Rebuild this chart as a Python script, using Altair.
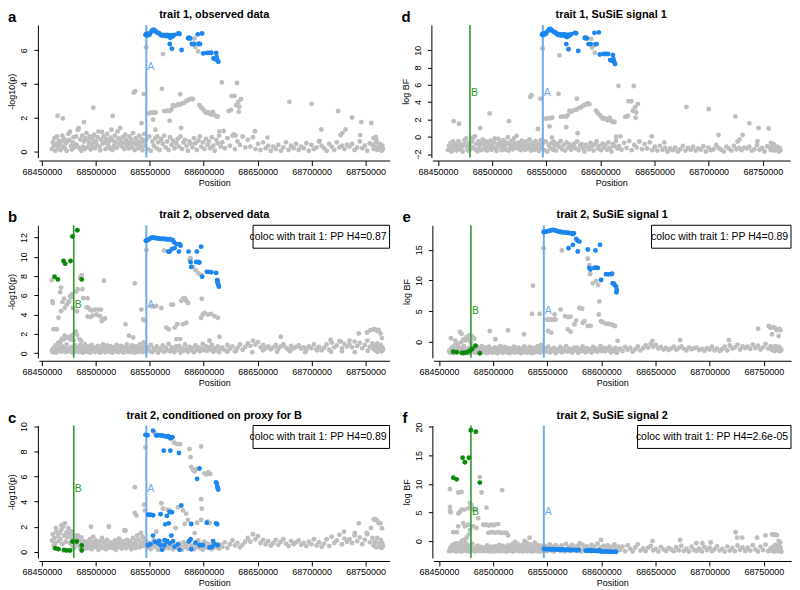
import altair as alt
import pandas as pd

FONT = "Liberation Sans"
GRAY = "#BEBEBE"
BLUE = "#1C86EE"
GREEN = "#0A8A0A"
LINE_A = "#6CACEB"
LINE_B = "#2E9B2E"

X_TICKS = [68450000, 68500000, 68550000, 68600000, 68650000, 68700000, 68750000]
A_KB = 68546.8
B_KB = 68479.5
LABEL_Y = 5

# shared SNP positions (kb) of the low "background" band
BAND_KB = [
    68459.3, 68460.1, 68460.9, 68461.6, 68462.5, 68463.2, 68464.0, 68464.9, 68465.7, 68466.4,
    68467.2, 68468.1, 68468.8, 68469.7, 68470.5, 68471.2, 68472.1, 68472.9, 68473.6, 68474.5,
    68475.3, 68476.0, 68476.9, 68477.7, 68478.4, 68479.3, 68480.1, 68480.8, 68481.7, 68482.5,
    68483.2, 68484.1, 68484.9, 68485.6, 68486.5, 68487.3, 68488.0, 68488.9, 68489.7, 68490.4,
    68491.3, 68492.1, 68492.8, 68493.7, 68494.5, 68495.2, 68496.1, 68496.9, 68497.6, 68498.5,
    68499.3, 68500.0, 68500.9, 68501.7, 68502.4, 68503.3, 68504.1, 68504.8, 68505.7, 68506.5,
    68507.2, 68508.1, 68508.9, 68509.6, 68510.5, 68511.3, 68512.0, 68512.9, 68513.7, 68514.4,
    68515.3, 68516.1, 68516.8, 68517.7, 68518.5, 68519.2, 68520.1, 68520.9, 68521.6, 68522.5,
    68523.3, 68524.0, 68524.9, 68525.7, 68526.4, 68527.3, 68528.1, 68528.8, 68529.7, 68530.5,
    68531.2, 68532.1, 68532.9, 68533.6, 68534.5, 68535.3, 68536.0, 68536.9, 68537.7, 68538.4,
    68539.3, 68540.1, 68540.8, 68541.7, 68542.5, 68543.2, 68544.1, 68544.9, 68545.6, 68546.5,
    68548.2, 68549.5, 68550.9, 68552.3, 68553.6, 68555.0, 68556.4, 68557.7, 68559.1, 68560.6,
    68562.0, 68563.3, 68564.7, 68566.1, 68567.4, 68568.8, 68570.2, 68571.5, 68572.9, 68574.4,
    68575.8, 68577.1, 68578.5, 68579.9, 68581.2, 68582.6, 68584.0, 68585.3, 68586.7, 68588.2,
    68589.6, 68590.9, 68592.3, 68593.7, 68595.0, 68596.4, 68597.8, 68599.1, 68600.5, 68602.0,
    68603.4, 68604.7, 68606.1, 68607.5, 68608.8, 68610.2, 68611.6, 68612.9, 68614.3, 68615.8,
    68617.2, 68619.5, 68621.9, 68624.2, 68626.6, 68628.9, 68631.3, 68633.6, 68636.0, 68638.5,
    68640.9, 68643.2, 68645.6, 68647.9, 68650.3, 68652.6, 68655.0, 68657.4, 68659.7, 68662.1,
    68664.4, 68666.8, 68669.1, 68671.5, 68673.8, 68676.2, 68678.6, 68680.9, 68683.3, 68685.6,
    68688.0, 68690.3, 68692.7, 68695.1, 68697.4, 68699.8, 68702.1, 68704.5, 68706.8, 68709.2,
    68711.6, 68713.9, 68716.3, 68718.6, 68721.0, 68723.3, 68725.7, 68728.1, 68730.4, 68732.8,
    68735.1, 68737.5, 68739.8, 68742.2, 68744.6, 68746.9, 68749.3, 68751.6, 68754.0, 68756.3,
    68757.5, 68758.7, 68759.8, 68760.9, 68762.0, 68763.1, 68764.0, 68764.8, 68765.5, 68766.2,
]

# ---------------- panel a: trait 1, observed data (-log10 p)
A_BAND = [
    0.15, 0.55, 0.35, 0.8, 0.05, 0.45, 0.9, 0.25, 0.65, 0.4,
    0.1, 0.6, 0.95, 0.3, 0.75, 0.2, 0.5, 0.05, 0.62, 1.05,
    0.7, 1.18, 0.33, 0.12, 0.55, 0.85, 0.25, 0.45, 0.9, 0.38,
    1.28, 1.39, 0.2, 0.72, 0.05, 0.95, 0.3, 0.6, 0.15, 0.8,
    1.1, 0.25, 0.68, 0.5, 0.9, 0.12, 0.35, 0.78, 0.55, 1.0,
    0.2, 0.62, 0.4, 0.85, 1.2, 0.3, 0.08, 0.7, 1.16, 0.48,
    0.9, 0.55, 0.15, 0.75, 1.05, 0.38, 0.6, 0.2, 0.82, 1.3,
    0.1, 0.65, 0.35, 0.95, 0.55, 0.22, 1.2, 0.78, 0.4, 1.4,
    0.6, 0.3, 0.85, 0.5, 0.15, 1.0, 0.7, 0.35, 0.55, 0.18,
    0.9, 0.45, 0.7, 0.25, 1.1, 0.52, 0.1, 0.8, 0.4, 0.62,
    0.2, 0.95, 0.5, 0.3, 0.75, 0.08, 0.6, 1.05, 0.35, 0.7,
    0.15, 0.9, 0.05, 0.6, 0.35, 0.8, 0.2, 0.55, 0.1, 0.7,
    0.45, 0.95, 0.25, 0.6, 0.1, 0.85, 0.4, 0.65, 0.2, 0.5,
    0.75, 0.3, 0.9, 0.15, 0.55, 0.7, 0.35, 0.05, 0.6, 0.45,
    0.25, 0.8, 0.5, 0.1, 0.65, 0.9, 0.3, 0.55, 0.15, 0.75,
    0.4, 0.6, 0.2, 0.85, 0.35, 0.05, 0.7, 0.5, 0.95, 0.3,
    0.55, 0.2, 0.8, 0.35, 0.95, 0.15, 0.6, 0.4, 0.9, 0.25,
    0.7, 0.3, 0.85, 0.15, 0.45, 0.1, 0.55, 0.2, 0.35, 0.05,
    0.3, 0.15, 0.4, 0.05, 0.25, 0.55, 0.1, 0.35, 0.2, 0.45,
    0.1, 0.3, 0.2, 0.5, 0.05, 0.4, 0.15, 0.25, 0.6, 0.35,
    0.2, 0.05, 0.45, 0.3, 0.1, 0.55, 0.25, 0.35, 0.15, 0.4,
    0.3, 0.45, 0.1, 0.25, 0.6, 0.2, 0.35, 0.05, 0.5, 0.4,
    0.15, 0.3, 0.55, 0.1, 0.25, 0.45, 0.2, 0.05, 0.35, 0.15,
]
A_GRAY = [
    (68546.6, 6.18), (68535.2, 3.5), (68536.3, 3.58), (68544.5, 3.41), (68542.3, 1.68),
    (68464.5, 2.12), (68469.4, 1.97), (68489.0, 1.75), (68497.7, 2.6), (68515.5, 2.12),
    (68549.5, 2.27), (68551.0, 2.3), (68552.5, 2.3), (68554.0, 2.3), (68555.5, 2.32),
    (68561.3, 3.72), (68562.2, 5.78), (68563.5, 2.4), (68566.0, 2.42), (68568.4, 2.4),
    (68570.0, 2.5), (68571.5, 2.75), (68573.5, 2.7), (68576.0, 2.8), (68577.6, 2.78),
    (68578.2, 3.4), (68580.0, 2.85), (68582.0, 2.9), (68584.0, 3.0), (68585.3, 3.05),
    (68587.0, 3.1), (68588.5, 3.14), (68589.8, 3.1), (68591.5, 6.7), (68592.3, 6.2),
    (68594.5, 6.4), (68594.8, 5.93), (68596.0, 2.75), (68597.7, 2.6), (68599.5, 2.5),
    (68600.7, 2.4), (68602.0, 2.3), (68603.8, 2.33), (68605.5, 2.25), (68606.8, 2.2),
    (68608.5, 2.35), (68610.0, 2.18), (68611.5, 2.1), (68613.0, 2.08), (68616.7, 4.1),
    (68630.8, 4.07), (68625.9, 3.3), (68628.4, 3.3), (68630.0, 2.75), (68632.0, 2.95),
    (68634.5, 3.1), (68633.0, 2.66), (68632.5, 2.37), (68625.3, 2.47), (68623.0, 2.4),
    (68614.5, 1.2), (68618.5, 1.22), (68553.0, 1.9), (68555.2, 1.3), (68568.4, 1.83),
    (68579.0, 1.4), (68557.0, 0.9), (68560.5, 0.75), (68679.4, 2.95), (68700.0, 2.83),
    (68724.6, 2.41), (68737.5, 2.02), (68746.1, 1.75), (68755.3, 1.7), (68709.0, 1.31),
    (68731.4, 1.31), (68728.5, 1.1), (68726.8, 0.98), (68745.0, 0.98), (68647.4, 1.21),
    (68659.0, 0.83), (68757.5, 0.8), (68760.0, 0.7), (68627.7, 1.02), (68629.5, 0.95),
    (68707.4, 0.64), (68759.4, 0.87),
]
A_BLUE = [
    (68546.0, 6.92), (68546.8, 6.98), (68547.5, 6.88), (68548.3, 6.95), (68549.0, 7.0),
    (68549.8, 6.93), (68551.5, 7.1), (68552.5, 7.2), (68553.5, 7.22), (68554.5, 7.18),
    (68555.5, 7.12), (68557.0, 7.05), (68558.5, 7.02), (68559.5, 6.95), (68560.5, 6.9),
    (68561.5, 6.88), (68562.5, 6.92), (68563.5, 6.86), (68564.5, 6.9), (68565.5, 6.85),
    (68566.5, 6.92), (68567.5, 6.88), (68568.3, 6.8), (68569.0, 6.75), (68570.0, 6.9),
    (68571.0, 6.82), (68572.0, 6.88), (68573.0, 6.92), (68568.5, 6.38), (68570.5, 6.1),
    (68576.5, 7.0), (68577.5, 6.97), (68579.5, 6.02), (68585.5, 6.72), (68586.5, 6.75),
    (68587.5, 6.7), (68589.0, 6.38), (68591.0, 6.38), (68594.5, 6.95), (68595.5, 6.38),
    (68596.5, 6.38), (68598.5, 7.0), (68599.5, 5.82), (68603.0, 5.85), (68605.0, 5.85),
    (68607.0, 5.86), (68609.0, 5.52), (68610.5, 5.48), (68611.5, 5.85), (68612.0, 5.6),
    (68612.8, 5.4), (68613.5, 5.32),
]

# ---------------- panel d: trait 1, SuSiE signal 1 (log BF)
D_BAND = [
    -1.55, -1.05, -1.3, -0.7, -1.7, -1.15, -0.55, -1.4, -0.9, -1.25,
    -1.6, -0.95, -0.5, -1.35, -0.8, -1.5, -1.1, -1.7, -0.95, -0.4,
    -0.85, -0.2, -1.3, -1.6, -1.05, -0.65, -1.45, -1.15, -0.55, -1.25,
    -0.05, 0.05, -1.5, -0.85, -1.7, -0.5, -1.35, -0.95, -1.55, -0.7,
    -0.3, -1.45, -0.9, -1.1, -0.55, -1.6, -1.3, -0.75, -1.05, -0.45,
    -1.5, -0.95, -1.25, -0.65, -0.2, -1.35, -1.65, -0.85, -0.25, -1.1,
    -0.55, -1.05, -1.55, -0.8, -0.4, -1.25, -0.95, -1.5, -0.7, -0.05,
    -1.6, -0.9, -1.3, -0.5, -1.05, -1.45, -0.2, -0.75, -1.25, 0.1,
    -0.95, -1.35, -0.65, -1.1, -1.55, -0.45, -0.85, -1.3, -1.05, -1.5,
    -0.55, -1.15, -0.85, -1.4, -0.3, -1.05, -1.6, -0.7, -1.25, -0.95,
    -1.5, -0.5, -1.1, -1.35, -0.8, -1.65, -0.95, -0.4, -1.3, -0.85,
    -1.55, -0.55, -1.7, -0.95, -1.3, -0.7, -1.5, -1.05, -1.6, -0.85,
    -1.15, -0.5, -1.45, -0.95, -1.6, -0.65, -1.25, -0.9, -1.5, -1.1,
    -0.8, -1.35, -0.55, -1.55, -1.05, -0.85, -1.3, -1.7, -0.95, -1.15,
    -1.45, -0.7, -1.1, -1.6, -0.9, -0.55, -1.35, -1.05, -1.55, -0.8,
    -1.25, -0.95, -1.5, -0.65, -1.3, -1.7, -0.85, -1.1, -0.5, -1.35,
    -1.05, -1.5, -0.7, -1.3, -0.5, -1.55, -0.95, -1.25, -0.55, -1.45,
    -0.85, -1.35, -0.65, -1.55, -1.15, -1.6, -1.05, -1.5, -1.3, -1.7,
    -1.35, -1.55, -1.25, -1.7, -1.45, -1.05, -1.6, -1.3, -1.5, -1.15,
    -1.6, -1.35, -1.5, -1.1, -1.7, -1.25, -1.55, -1.45, -0.95, -1.3,
    -1.5, -1.7, -1.15, -1.35, -1.6, -1.05, -1.45, -1.3, -1.55, -1.25,
    -1.35, -1.15, -1.6, -1.45, -0.95, -1.5, -1.3, -1.7, -1.1, -1.25,
    -1.55, -1.35, -1.05, -1.6, -1.45, -1.15, -1.5, -1.7, -1.3, -1.55,
]
D_GRAY = [
    (68546.6, 10.2), (68535.2, 4.6), (68536.3, 4.8), (68544.5, 4.4), (68542.3, 0.9),
    (68464.5, 1.8), (68469.4, 1.5), (68489.0, 1.0), (68497.7, 2.7), (68515.5, 1.8),
    (68481.6, -0.12), (68549.5, 2.1), (68551.0, 2.15), (68552.5, 2.15), (68554.0, 2.15),
    (68555.5, 2.2), (68561.3, 4.95), (68562.2, 9.4), (68563.5, 2.3), (68566.0, 2.35),
    (68568.4, 2.3), (68570.0, 2.5), (68571.5, 3.0), (68573.5, 2.9), (68576.0, 3.1),
    (68577.6, 3.1), (68578.2, 4.4), (68580.0, 3.3), (68582.0, 3.4), (68584.0, 3.6),
    (68585.3, 3.65), (68587.0, 3.75), (68588.5, 3.85), (68589.8, 3.75), (68591.5, 11.3),
    (68592.3, 10.3), (68594.5, 10.6), (68594.8, 9.7), (68596.0, 3.0), (68597.7, 2.7),
    (68599.5, 2.5), (68600.7, 2.3), (68602.0, 2.1), (68603.8, 2.15), (68605.5, 2.0),
    (68606.8, 1.9), (68608.5, 2.2), (68610.0, 1.85), (68611.5, 1.7), (68613.0, 1.7),
    (68616.7, 5.86), (68630.8, 5.86), (68625.9, 4.1), (68628.4, 4.1), (68630.0, 3.0),
    (68632.0, 3.4), (68634.5, 3.75), (68633.0, 2.8), (68632.5, 2.2), (68625.3, 2.4),
    (68623.0, 2.3), (68614.5, 0.0), (68618.5, 0.05), (68553.0, 1.2), (68555.2, -0.1),
    (68568.4, 1.1), (68579.0, 0.4), (68557.0, -0.6), (68560.5, -0.8), (68679.4, 3.45),
    (68700.0, 3.2), (68724.6, 2.35), (68737.5, 1.55), (68746.1, 1.0), (68755.3, 0.95),
    (68709.0, 0.2), (68731.4, 0.2), (68728.5, -0.3), (68726.8, -0.55), (68745.0, -0.5),
    (68647.4, 0.05), (68659.0, -0.65), (68757.5, -0.7), (68760.0, -0.85),
]
D_BLUE = [
    (68546.0, 11.8), (68546.8, 11.9), (68547.5, 11.75), (68548.3, 11.85), (68549.0, 12.0),
    (68549.8, 11.9), (68551.5, 12.2), (68552.5, 12.4), (68553.5, 12.45), (68554.5, 12.35),
    (68555.5, 12.25), (68557.0, 12.1), (68558.5, 12.05), (68559.5, 11.9), (68560.5, 11.8),
    (68561.5, 11.75), (68562.5, 11.85), (68563.5, 11.7), (68564.5, 11.8), (68565.5, 11.7),
    (68566.5, 11.85), (68567.5, 11.75), (68568.3, 11.6), (68569.0, 11.5), (68570.0, 11.8),
    (68571.0, 11.65), (68572.0, 11.75), (68573.0, 11.85), (68568.5, 10.7), (68570.5, 10.1),
    (68576.5, 12.0), (68577.5, 11.95), (68579.5, 9.9), (68585.5, 11.4), (68586.5, 11.45),
    (68587.5, 11.35), (68589.0, 10.7), (68591.0, 10.7), (68594.5, 12.0), (68595.5, 10.7),
    (68596.5, 10.7), (68598.5, 12.05), (68599.5, 9.5), (68603.0, 9.55), (68605.0, 9.55),
    (68607.0, 9.55), (68609.0, 8.85), (68610.5, 8.8), (68611.5, 9.45), (68612.0, 8.95),
    (68612.8, 8.6), (68613.5, 8.4),
]

# ---------------- panel b: trait 2, observed data (-log10 p)
B_BAND = [
    0.3, 0.1, 0.55, 0.2, 0.8, 0.05, 0.4, 1.05, 0.25, 0.6,
    1.2, 0.15, 0.7, 0.35, 1.45, 0.5, 0.1, 0.9, 0.3, 1.6,
    0.45, 0.2, 1.75, 0.65, 0.05, 1.35, 0.3, 0.8, 0.15, 1.9,
    0.55, 0.1, 0.35, 0.85, 0.2, 0.6, 0.05, 0.4, 0.95, 0.25,
    0.5, 0.15, 0.7, 0.3, 0.05, 0.45, 0.85, 0.2, 0.6, 0.35,
    0.1, 0.55, 0.3, 0.75, 0.2, 0.45, 0.05, 0.65, 0.35, 0.9,
    0.25, 0.6, 0.1, 0.45, 0.8, 0.3, 0.55, 0.15, 0.7, 0.4,
    0.05, 0.5, 0.3, 0.65, 0.2, 0.85, 0.4, 0.1, 0.6, 0.35,
    0.75, 0.2, 0.5, 0.05, 0.4, 0.65, 0.3, 0.9, 0.15, 0.55,
    0.35, 0.1, 0.6, 0.8, 0.25, 0.45, 0.05, 0.7, 0.3, 0.55,
    0.15, 0.5, 0.9, 0.3, 0.65, 0.1, 1.1, 0.4, 0.75, 0.2,
    0.6, 0.25, 0.85, 0.1, 0.5, 0.35, 0.7, 0.05, 0.45, 0.3,
    0.8, 0.15, 0.55, 0.3, 0.95, 0.2, 0.6, 0.4, 0.1, 0.7,
    0.35, 0.75, 0.05, 0.5, 0.25, 0.9, 0.4, 0.15, 0.65, 0.3,
    0.55, 0.1, 0.8, 0.35, 0.6, 0.2, 0.45, 0.95, 0.3, 0.7,
    0.25, 0.6, 0.4, 0.85, 0.15, 0.5, 0.3, 0.7, 0.1, 0.45,
    0.6, 0.3, 0.85, 0.45, 0.7, 0.2, 0.55, 0.9, 0.35, 0.65,
    1.0, 0.75, 1.3, 0.9, 1.15, 0.6, 0.85, 0.5, 0.7, 0.4,
    0.6, 0.85, 0.45, 0.7, 0.9, 0.55, 0.35, 0.75, 0.5, 0.65,
    0.8, 0.45, 0.6, 0.35, 0.7, 0.5, 0.9, 0.4, 0.65, 0.3,
    0.55, 0.9, 0.35, 1.1, 0.6, 0.8, 1.25, 0.5, 0.95, 0.7,
    0.9, 0.6, 1.2, 0.75, 1.05, 0.5, 0.85, 1.3, 0.65, 1.0,
    0.4, 0.7, 0.25, 1.0, 0.55, 0.3, 0.85, 0.2, 0.6, 0.35,
]
B_GRAY = [
    (68459.2, 7.58), (68459.8, 5.37), (68460.2, 5.2), (68460.8, 2.48), (68463.8, 2.48),
    (68466.9, 6.33), (68467.8, 6.8), (68469.0, 5.3), (68470.6, 5.65), (68471.2, 4.7),
    (68473.0, 5.03), (68474.6, 5.3), (68476.1, 5.88), (68477.7, 6.12), (68478.6, 4.7),
    (68481.7, 6.4), (68483.2, 6.63), (68485.4, 7.82), (68486.9, 8.1), (68482.5, 4.35),
    (68488.4, 5.71), (68491.5, 4.76), (68493.0, 4.69), (68494.6, 4.52), (68496.1, 4.42),
    (68499.2, 4.52), (68502.3, 4.52), (68504.7, 4.52), (68500.7, 4.01), (68503.8, 3.84),
    (68505.4, 3.33), (68506.8, 3.5), (68508.4, 3.6), (68495.0, 3.74), (68497.2, 3.9),
    (68492.4, 3.81), (68507.5, 7.52), (68479.2, 1.97), (68481.4, 2.24), (68484.7, 1.46),
    (68486.2, 1.3), (68466.9, 1.12), (68468.5, 1.5), (68471.0, 1.8), (68473.5, 1.6),
    (68476.5, 1.4), (68527.5, 2.99), (68530.6, 1.8), (68534.6, 1.63), (68536.1, 7.24),
    (68542.2, 4.52), (68543.8, 3.5), (68544.6, 3.4), (68546.9, 10.7), (68465.4, 3.67),
    (68467.8, 4.35), (68475.2, 5.37), (68477.1, 5.8), (68487.5, 6.63), (68492.2, 5.68),
    (68551.5, 4.86), (68553.0, 4.86), (68554.6, 4.86), (68556.0, 4.9), (68560.7, 4.69),
    (68563.2, 10.65), (68565.3, 2.65), (68567.5, 2.48), (68570.0, 5.03), (68571.5, 5.03),
    (68573.0, 2.65), (68574.6, 1.46), (68578.2, 1.46), (68579.2, 5.44), (68580.7, 5.65),
    (68582.3, 5.7), (68583.8, 5.44), (68585.3, 5.2), (68575.5, 3.0), (68580.7, 3.0),
    (68583.8, 3.16), (68586.9, 9.73), (68587.8, 9.85), (68589.9, 8.95), (68592.4, 8.6),
    (68595.1, 8.27), (68597.6, 8.1), (68598.2, 5.65), (68597.6, 3.67), (68599.1, 4.01),
    (68600.7, 4.18), (68603.8, 4.0), (68606.8, 4.08), (68610.0, 3.84), (68613.0, 3.67),
    (68605.3, 1.29), (68614.5, 1.7), (68743.7, 2.04), (68751.3, 2.14), (68754.4, 2.38),
    (68757.5, 2.48), (68759.0, 2.45), (68760.6, 2.31), (68762.2, 2.4), (68763.7, 2.04),
    (68765.2, 1.56), (68671.4, 1.7), (68717.5, 1.36), (68727.0, 1.2), (68735.0, 1.3),
    (68622.0, 0.15), (68630.0, 0.25), (68645.0, 0.1), (68655.0, 0.3), (68668.0, 0.15),
    (68680.0, 0.2), (68694.0, 0.1), (68705.0, 0.3), (68718.0, 0.15), (68728.0, 0.2),
    (68740.0, 0.1), (68752.0, 0.25), (68761.0, 0.15),
]
B_BLUE = [
    (68546.3, 11.67), (68547.5, 11.7), (68549.0, 11.8), (68550.5, 11.9), (68552.1, 12.0),
    (68553.5, 11.98), (68555.0, 11.95), (68556.5, 11.92), (68558.0, 11.9), (68559.5, 11.88),
    (68561.0, 11.85), (68562.5, 11.87), (68564.0, 11.85), (68565.5, 11.82), (68567.0, 11.8),
    (68568.5, 11.82), (68570.0, 11.78), (68571.5, 11.7), (68572.5, 11.5), (68567.0, 10.54),
    (68568.4, 10.54), (68570.5, 10.8), (68573.0, 10.9), (68574.8, 11.3), (68577.6, 11.3),
    (68578.5, 11.15), (68577.0, 10.54), (68585.9, 10.54), (68593.6, 10.54), (68597.6, 11.05),
    (68587.8, 9.46), (68588.4, 8.95), (68593.0, 9.46), (68595.0, 9.46), (68596.0, 9.4),
    (68598.5, 7.93), (68602.8, 8.44), (68605.0, 8.44), (68607.0, 8.4), (68611.4, 8.33),
    (68612.4, 7.58), (68613.0, 7.5), (68613.6, 7.07), (68614.0, 6.9), (68612.8, 7.3),
]
B_GREEN = [
    (68461.7, 7.93), (68464.8, 7.65), (68470.0, 9.56), (68471.5, 9.29), (68476.5, 9.56),
    (68478.3, 12.1), (68482.9, 12.76), (68486.9, 7.65),
]

# ---------------- panel e: trait 2, SuSiE signal 1 (log BF)
E_BAND = [
    -1.5, -1.75, -1.2, -1.65, -0.85, -1.85, -1.4, -0.5, -1.55, -1.1,
    -0.35, -1.7, -0.95, -1.45, -0.05, -1.25, -1.8, -0.7, -1.5, 0.2,
    -1.3, -1.65, 0.35, -1.0, -1.85, -0.15, -1.5, -0.85, -1.7, 0.5,
    -1.2, -1.8, -1.45, -0.8, -1.65, -1.1, -1.85, -1.35, -0.7, -1.55,
    -1.25, -1.7, -0.95, -1.5, -1.85, -1.3, -0.8, -1.65, -1.1, -1.45,
    -1.8, -1.2, -1.5, -0.9, -1.65, -1.35, -1.85, -1.05, -1.45, -0.7,
    -1.55, -1.1, -1.8, -1.35, -0.85, -1.5, -1.2, -1.7, -1.0, -1.4,
    -1.85, -1.25, -1.5, -1.05, -1.65, -0.8, -1.4, -1.75, -1.1, -1.45,
    -0.95, -1.65, -1.25, -1.85, -1.4, -1.05, -1.5, -0.75, -1.7, -1.2,
    -1.45, -1.75, -1.1, -0.85, -1.55, -1.3, -1.85, -1.0, -1.5, -1.2,
    -1.7, -1.25, -0.75, -1.5, -1.05, -1.75, -0.5, -1.35, -0.95, -1.6,
    -1.1, -1.55, -0.8, -1.75, -1.25, -1.45, -1.0, -1.85, -1.3, -1.5,
    -0.85, -1.7, -1.2, -1.5, -0.7, -1.6, -1.1, -1.35, -1.75, -1.0,
    -1.4, -0.9, -1.8, -1.25, -1.55, -0.75, -1.35, -1.7, -1.05, -1.5,
    -1.2, -1.75, -0.85, -1.45, -1.1, -1.6, -1.3, -0.7, -1.5, -1.0,
    -1.55, -1.1, -1.35, -0.8, -1.7, -1.25, -1.5, -1.0, -1.8, -1.3,
    -1.1, -1.5, -0.85, -1.3, -1.0, -1.6, -1.2, -0.75, -1.4, -1.05,
    -0.6, -0.95, -0.3, -0.8, -0.5, -1.1, -0.85, -1.25, -1.0, -1.35,
    -1.1, -0.8, -1.3, -1.0, -0.75, -1.15, -1.4, -0.9, -1.2, -1.05,
    -0.95, -1.35, -1.15, -1.45, -1.05, -1.25, -0.8, -1.4, -1.1, -1.5,
    -1.2, -0.8, -1.4, -0.6, -1.1, -0.9, -0.45, -1.25, -0.75, -1.0,
    -0.8, -1.15, -0.45, -1.0, -0.65, -1.25, -0.9, -0.35, -1.1, -0.7,
    -1.3, -0.95, -1.5, -0.7, -1.2, -1.4, -0.85, -1.55, -1.1, -1.35,
]
E_GRAY = [
    (68546.6, 15.26), (68563.5, 14.9), (68587.4, 13.55), (68588.9, 12.5), (68589.5, 11.03),
    (68592.0, 9.53), (68595.0, 9.9), (68597.0, 9.27), (68598.1, 6.59), (68536.8, 9.16),
    (68535.9, 4.55), (68542.9, 4.55), (68550.0, 3.64), (68551.5, 3.6), (68553.0, 3.6),
    (68554.5, 3.62), (68556.0, 3.6), (68557.5, 3.65), (68556.7, 4.45), (68562.3, 5.25),
    (68566.5, 4.18), (68569.6, 4.02), (68571.5, 4.1), (68569.0, 2.03), (68571.5, 1.66),
    (68575.1, 2.84), (68576.7, 3.48), (68579.7, 5.52), (68582.2, 5.41), (68584.3, 3.37),
    (68582.8, 3.1), (68587.4, 2.57), (68590.0, 2.6), (68597.5, 4.45), (68599.7, 3.37),
    (68601.2, 3.2), (68604.3, 2.95), (68606.5, 2.9), (68608.9, 2.84), (68610.5, 2.7),
    (68612.5, 2.57), (68615.0, 0.16), (68550.6, 1.77), (68553.7, 1.5), (68461.0, 0.59),
    (68469.3, 1.6), (68470.8, 1.3), (68475.5, 0.8), (68478.0, 1.1), (68496.9, 1.77),
    (68513.8, 1.87), (68528.5, 1.23), (68502.1, 0.43), (68465.0, 0.2), (68472.5, 0.4),
    (68480.5, 0.9), (68647.2, 0.16), (68672.7, 0.27), (68717.8, 0.27), (68744.7, 2.14),
    (68754.6, 2.57), (68756.1, 2.3), (68757.6, 1.23), (68759.0, 2.4), (68760.5, 2.2),
    (68762.0, 1.9), (68763.7, 0.96), (68765.3, 1.87), (68764.5, 2.1),
]
E_BLUE = [
    (68546.6, 17.9), (68548.5, 17.95), (68550.0, 18.0), (68552.1, 18.1), (68553.5, 18.2),
    (68555.2, 18.26), (68556.8, 18.2), (68558.3, 18.1), (68560.0, 18.0), (68561.3, 17.94),
    (68562.8, 17.9), (68564.4, 17.84), (68566.0, 17.84), (68567.5, 17.8), (68569.0, 17.78),
    (68570.5, 17.73), (68572.0, 17.7), (68573.6, 17.57), (68574.5, 17.7), (68576.7, 16.76),
    (68578.0, 16.5), (68579.7, 16.34), (68569.6, 15.26), (68573.6, 15.8), (68578.2, 14.73),
    (68587.4, 15.05), (68594.5, 14.9), (68598.7, 15.8), (68588.9, 12.05), (68589.8, 11.8),
    (68593.5, 12.05), (68595.0, 12.1), (68596.6, 12.05), (68599.7, 10.07), (68604.3, 11.03),
    (68606.5, 11.0), (68608.9, 11.03), (68609.8, 11.1), (68610.4, 9.53), (68611.3, 9.5),
    (68612.0, 9.3), (68613.5, 9.0), (68614.1, 8.46), (68613.8, 8.09),
]
E_GREEN = [
    (68463.2, -1.6), (68466.3, -1.71), (68471.0, -1.8), (68472.4, -1.82), (68474.0, -1.78),
    (68476.1, -1.71), (68478.5, -1.45), (68480.7, -1.18), (68483.7, -0.64), (68487.7, -1.87),
]

# ---------------- panel c: trait 2, conditioned on proxy for B (-log10 p)
C_BAND = [
    0.9, 1.4, 0.5, 1.1, 0.7, 1.6, 0.3, 1.25, 0.85, 1.5,
    1.0, 1.75, 0.6, 2.0, 1.3, 2.27, 0.8, 1.55, 1.15, 1.9,
    1.4, 0.7, 1.65, 1.1, 0.45, 1.35, 0.9, 1.2, 0.6, 1.0,
    1.3, 0.5, 0.95, 0.3, 1.15, 0.7, 0.4, 0.85, 0.6, 0.25,
    0.45, 0.8, 0.3, 0.65, 1.0, 0.5, 0.2, 0.75, 1.2, 0.4,
    0.6, 0.9, 0.35, 0.7, 0.15, 0.55, 0.85, 0.45, 1.1, 0.3,
    0.8, 0.4, 0.65, 0.2, 0.95, 0.5, 2.0, 0.35, 0.75, 0.55,
    0.3, 0.7, 0.45, 0.9, 0.15, 0.6, 0.8, 0.35, 1.05, 0.5,
    0.65, 0.25, 0.85, 0.45, 1.7, 0.6, 0.3, 0.95, 0.5, 0.75,
    0.4, 0.85, 0.2, 0.6, 1.1, 0.45, 0.7, 0.3, 0.9, 1.3,
    0.55, 0.95, 0.35, 1.5, 0.7, 1.2, 0.45, 1.0, 0.6, 0.8,
    0.35, 0.7, 0.2, 0.55, 0.9, 0.4, 0.65, 0.15, 0.5, 0.8,
    0.6, 0.25, 0.45, 0.85, 0.3, 0.5, 0.7, 0.2, 0.55, 0.4,
    0.3, 0.65, 0.5, 0.15, 0.75, 0.4, 0.6, 0.25, 0.85, 0.45,
    0.5, 0.2, 0.7, 0.4, 0.9, 0.3, 0.6, 0.15, 0.8, 0.35,
    0.65, 0.3, 0.5, 0.2, 0.75, 0.45, 0.35, 0.6, 0.25, 0.55,
    0.4, 0.75, 0.3, 0.6, 0.9, 0.5, 0.7, 0.35, 0.55, 0.8,
    1.1, 0.8, 1.4, 1.0, 1.25, 0.7, 0.95, 0.6, 0.85, 0.5,
    0.7, 0.95, 0.55, 0.8, 1.0, 0.65, 0.45, 0.85, 0.6, 0.75,
    0.9, 0.55, 0.7, 0.45, 0.8, 0.6, 1.0, 0.5, 0.75, 0.4,
    0.65, 1.0, 0.45, 1.2, 0.7, 0.9, 1.35, 0.6, 1.05, 0.8,
    1.0, 0.7, 1.3, 0.85, 1.15, 0.6, 0.95, 1.4, 0.75, 1.1,
    0.5, 0.8, 0.35, 1.1, 0.65, 0.4, 0.95, 0.3, 0.7, 0.45,
]
C_GRAY = [
    (68546.0, 8.33), (68554.6, 9.48), (68572.4, 8.71), (68575.0, 8.6), (68578.2, 8.58),
    (68586.9, 8.2), (68587.8, 7.55), (68597.6, 8.4), (68588.4, 6.78), (68590.0, 6.52),
    (68591.5, 6.4), (68593.0, 6.6), (68600.7, 6.26), (68602.8, 6.19), (68604.3, 6.34),
    (68606.0, 6.2), (68597.6, 4.2), (68598.2, 3.43), (68536.1, 5.15), (68536.1, 3.09),
    (68537.6, 2.9), (68544.7, 3.76), (68545.5, 3.3), (68560.7, 3.87), (68562.2, 3.43),
    (68566.8, 3.35), (68568.4, 3.3), (68576.1, 3.56), (68580.7, 3.3), (68583.8, 3.04),
    (68585.3, 2.53), (68582.2, 2.22), (68593.8, 2.32), (68597.6, 2.53), (68603.8, 2.4),
    (68605.3, 2.3), (68591.5, 1.49), (68556.0, 1.6), (68574.0, 1.9), (68495.5, 2.0),
    (68512.1, 2.0), (68527.5, 1.7), (68465.0, 0.2), (68470.0, 0.1), (68480.0, 0.3),
    (68463.0, 1.9), (68468.0, 2.1), (68743.7, 2.27), (68757.5, 2.58), (68759.0, 2.6),
    (68760.6, 2.5), (68762.0, 2.3), (68763.7, 2.27), (68765.2, 1.88), (68751.0, 1.5),
    (68755.0, 1.9), (68740.0, 1.5), (68730.0, 1.6),
]
C_BLUE = [
    (68546.0, 9.33), (68548.0, 9.3), (68553.0, 9.67), (68556.1, 9.28), (68558.0, 9.3),
    (68560.7, 9.28), (68562.5, 9.25), (68563.8, 9.23), (68565.5, 9.2), (68567.0, 9.22),
    (68568.4, 9.15), (68569.2, 9.05), (68570.0, 9.1), (68571.0, 9.15), (68562.9, 8.07),
    (68569.0, 8.07), (68577.0, 7.89), (68596.1, 6.65), (68593.8, 5.82), (68611.4, 5.54),
    (68612.0, 5.45), (68612.6, 5.2), (68613.0, 5.1), (68613.4, 4.97), (68548.4, 2.96),
    (68550.5, 2.95), (68553.0, 2.91), (68560.0, 2.99), (68565.9, 2.86), (68568.4, 3.17),
    (68570.5, 3.15), (68579.2, 3.69), (68564.4, 2.19), (68567.5, 2.27), (68588.4, 2.22),
    (68602.8, 2.32), (68611.4, 2.27), (68612.5, 2.2), (68553.0, 1.29), (68570.0, 1.29),
    (68563.8, 0.93), (68566.0, 0.85), (68571.5, 0.85), (68576.1, 0.59), (68548.4, 0.52),
    (68550.5, 0.6), (68554.6, 0.8), (68557.5, 0.7), (68560.0, 0.52), (68561.3, 0.15),
    (68563.5, 0.5), (68568.4, 0.67), (68573.0, 0.41), (68577.6, 0.15), (68586.2, 0.82),
    (68588.4, 0.2), (68592.4, 0.72), (68596.1, 0.52), (68599.2, 0.52), (68605.3, 0.34),
    (68607.8, 0.39), (68608.7, 0.85), (68613.0, 0.52), (68558.6, 0.87), (68565.4, 0.79),
    (68587.8, 1.0), (68610.0, 0.6),
]
C_GREEN = [
    (68462.3, 0.28), (68465.4, 0.21), (68470.6, 0.15), (68473.0, 0.1), (68476.1, 0.1),
    (68478.3, 0.82), (68482.3, 0.82), (68486.9, 0.5), (68486.9, 0.1),
]

# ---------------- panel f: trait 2, SuSiE signal 2 (log BF)
F_BAND = [
    -1.8, -1.5, -1.1, -1.75, -0.7, -1.6, -1.3, -0.5, -1.85, -1.2,
    -0.4, -1.7, -1.0, -1.85, -0.6, -1.45, -1.8, -0.9, -1.55, -0.3,
    -1.3, -1.8, -0.8, -1.55, -1.85, -1.1, -1.65, -0.55, -1.75, -1.4,
    -1.85, -1.2, -1.6, -0.85, -1.75, -1.35, -1.8, -1.05, -1.5, -1.7,
    -1.4, -1.8, -1.1, -1.65, -0.8, -1.75, -1.5, -1.25, -1.85, -1.0,
    -1.7, -1.25, -1.85, -0.95, -1.55, -1.75, -1.15, -1.6, -0.7, -1.8,
    -1.3, -1.8, -0.9, -1.6, -1.75, -1.1, -1.85, -1.45, -0.8, -1.65,
    -1.75, -1.2, -1.6, -0.6, -1.85, -1.35, -0.9, -1.7, -1.15, -0.5,
    -1.55, -1.8, -1.0, -1.65, -0.75, -1.85, -1.3, -0.4, -1.7, -1.1,
    -1.8, -0.9, -1.5, -1.75, -0.6, -1.4, -1.85, -1.05, -1.6, -0.3,
    -1.35, -1.8, -0.7, -1.6, -1.2, -1.85, -0.85, -1.5, -1.75, -1.0,
    -0.9, -1.8, -1.2, -0.6, -1.7, -1.0, -1.85, -0.75, -1.5, -1.1,
    -1.75, -0.8, -1.4, -1.85, -0.55, -1.6, -1.05, -1.8, -0.7, -1.3,
    -1.0, -1.7, -0.85, -1.5, -1.85, -0.65, -1.3, -1.75, -0.95, -1.6,
    -1.8, -0.7, -1.45, -1.05, -1.75, -0.5, -1.6, -1.2, -1.85, -0.9,
    -1.3, -1.8, -0.8, -1.6, -1.1, -1.85, -0.75, -1.5, -1.7, -1.0,
    -1.6, -1.0, -1.8, -0.75, -1.4, -1.85, -1.15, -0.6, -1.7, -1.3,
    -1.8, -1.2, -0.9, -1.65, -1.4, -1.85, -1.05, -1.5, -1.75, -1.25,
    -1.5, -1.8, -1.1, -1.65, -0.85, -1.75, -1.35, -1.85, -1.0, -1.6,
    -1.75, -1.3, -1.85, -1.05, -1.6, -1.2, -1.8, -1.45, -0.95, -1.7,
    -1.4, -1.85, -1.0, -1.7, -1.25, -1.8, -0.8, -1.55, -1.15, -1.75,
    -1.2, -1.7, -0.75, -1.5, -1.85, -1.0, -1.6, -0.65, -1.8, -1.3,
    -1.75, -1.0, -1.85, -0.7, -1.5, -1.8, -0.85, -1.65, -1.2, -1.9,
]
F_GRAY = [
    (68460.1, 9.1), (68467.8, 8.5), (68470.9, 8.6), (68487.7, 11.2), (68489.3, 8.5),
    (68508.3, 8.9), (68493.9, 5.85), (68460.1, 5.97), (68460.3, 5.3), (68460.8, 5.0),
    (68467.8, 4.83), (68469.3, 5.1), (68470.9, 5.5), (68473.5, 5.5), (68477.0, 5.7),
    (68478.5, 6.65), (68480.0, 6.25), (68483.1, 5.4), (68481.5, 5.6), (68463.2, 1.53),
    (68466.3, 1.53), (68467.8, 2.56), (68472.4, 3.13), (68473.9, 2.56), (68477.0, 2.84),
    (68481.6, 2.56), (68484.7, 2.27), (68486.2, 3.98), (68470.9, 0.0), (68473.9, 0.28),
    (68475.5, 0.6), (68477.6, 1.14), (68490.8, 2.84), (68492.5, 2.8), (68493.9, 2.84),
    (68496.0, 2.7), (68498.5, 2.84), (68500.5, 2.75), (68501.6, 2.84), (68504.6, 2.95),
    (68495.4, 1.42), (68497.5, 1.5), (68500.0, 1.53), (68502.0, 1.45), (68504.6, 1.53),
    (68506.0, 1.5), (68507.7, 1.42), (68510.0, 1.45), (68512.3, 1.42), (68513.8, 0.97),
    (68520.0, -0.17), (68529.1, 0.0), (68533.7, 0.57), (68531.0, -0.3), (68478.6, 1.93),
    (68647.2, 0.0), (68672.7, 0.17), (68687.7, -0.4), (68693.2, -0.4), (68700.9, -0.28),
    (68723.9, 1.53), (68725.4, 0.57), (68730.0, 0.57), (68743.8, 0.57), (68751.5, 0.97),
    (68757.6, 1.14), (68759.0, 1.1), (68760.5, 1.14), (68762.0, 1.0), (68763.7, 0.0),
    (68765.0, -0.3), (68599.7, 0.17), (68580.0, -0.4), (68612.0, -0.6),
]
F_BLUE = [
    (68547.0, -1.42), (68548.2, -1.45), (68549.5, -1.42), (68551.0, -1.48), (68552.5, -1.45),
    (68554.0, -1.5), (68555.5, -1.47), (68557.0, -1.5), (68558.5, -1.48), (68560.0, -1.52),
    (68561.5, -1.5), (68563.0, -1.55), (68564.5, -1.52), (68566.0, -1.55), (68567.5, -1.58),
    (68569.0, -1.55), (68570.5, -1.6), (68572.0, -1.57), (68573.5, -1.6), (68576.0, -1.62),
    (68577.5, -1.65), (68579.0, -1.6), (68585.5, -1.7), (68587.0, -1.72), (68588.5, -1.68),
    (68591.0, -1.75), (68593.0, -1.72), (68595.0, -1.78), (68596.5, -1.75), (68598.5, -1.8),
    (68600.0, -1.85), (68602.5, -1.88), (68604.5, -1.85), (68606.5, -1.9), (68608.5, -1.88),
    (68610.5, -1.92), (68612.0, -1.9), (68613.5, -1.92), (68598.0, -1.62), (68590.0, -1.6),
]
F_GREEN = [
    (68463.2, 11.08), (68466.3, 10.8), (68471.8, 14.6), (68473.9, 13.8), (68477.6, 14.6),
    (68479.4, 19.43), (68484.0, 19.15), (68487.7, 10.23),
]

PT_SIZE = 24
H = 133
W_L, W_R = 352, 359
XDOM_L = [68447200, 68772200]
XDOM_R = [68444800, 68775100]


def df(pairs):
    return pd.DataFrame({"pos": [k * 1000 for k, _ in pairs], "y": [v for _, v in pairs]})


def panel(letter, title, ytitle, ydom, yticks, band, gray, blue, green, show_b,
          coloc, width, xdom, boxw):
    x = alt.X("pos:Q", scale=alt.Scale(domain=xdom, nice=False, zero=False),
              axis=alt.Axis(values=X_TICKS, format="d", title="Position",
                            labelFlush=False, offset=3, tickSize=5,
                            labelPadding=2, titlePadding=2))
    y = alt.Y("y:Q", scale=alt.Scale(domain=ydom, nice=False, zero=False),
              axis=alt.Axis(values=yticks, title=ytitle, labelAngle=270,
                            labelAlign="center", labelBaseline="middle",
                            offset=1, tickSize=4, labelPadding=10,
                            titleX=-21, titleY=H / 2, titleAngle=270,
                            titleAlign="center", titleBaseline="bottom"))
    gray_df = df(list(zip(BAND_KB, band)) + gray)
    layers = [alt.Chart(gray_df).mark_circle(size=PT_SIZE, color=GRAY, opacity=1)
              .encode(x=x, y=y)]
    marks = [("A", A_KB, LINE_A)]
    if show_b:
        marks.append(("B", B_KB, LINE_B))
    for lab, kb, col in marks:
        ldf = pd.DataFrame({"pos": [kb * 1000], "y": [LABEL_Y], "label": [lab]})
        layers.append(alt.Chart(ldf).mark_rule(color=col, strokeWidth=2 if lab == "A" else 1.6)
                      .encode(x=x))
        layers.append(alt.Chart(ldf).mark_text(color=col, align="left", baseline="middle",
                                               dx=1, fontSize=10.5, font=FONT)
                      .encode(x=x, y=y, text="label:N"))
    if blue:
        layers.append(alt.Chart(df(blue)).mark_circle(size=PT_SIZE, color=BLUE, opacity=1)
                      .encode(x=x, y=y))
    if green:
        layers.append(alt.Chart(df(green)).mark_circle(size=PT_SIZE, color=GREEN, opacity=1)
                      .encode(x=x, y=y))
    one = pd.DataFrame({"k": [0]})
    if coloc:
        layers.append(alt.Chart(one).mark_rect(fill="white", stroke="black", strokeWidth=1)
                      .encode(x=alt.value(width - boxw), x2=alt.value(width),
                              y=alt.value(0), y2=alt.value(23)))
        layers.append(alt.Chart(one).mark_text(text=coloc, align="right", baseline="middle",
                                               fontSize=10.5, font=FONT, color="black")
                      .encode(x=alt.value(width - 3), y=alt.value(12)))
    # panel letter and panel title
    layers.append(alt.Chart(one).mark_text(text=letter, align="left", baseline="alphabetic",
                                           fontSize=15, fontWeight="bold", font=FONT,
                                           color="black")
                  .encode(x=alt.value(-31), y=alt.value(-3)))
    layers.append(alt.Chart(one).mark_text(text=title, align="center", baseline="alphabetic",
                                           fontSize=11, fontWeight="bold", font=FONT,
                                           color="black")
                  .encode(x=alt.value(width / 2), y=alt.value(-7)))
    return alt.layer(*layers).properties(width=width, height=H)


pa = panel("a", "trait 1, observed data", "-log10(p)", [-0.35, 7.5], [0, 2, 4, 6],
           A_BAND, A_GRAY, A_BLUE, None, False, None, W_L, XDOM_L, 0)
pdd = panel("d", "trait 1, SuSiE signal 1", "log BF", [-2.4, 12.9], [-2, 0, 2, 4, 6, 8, 10],
            D_BAND, D_GRAY, D_BLUE, None, True, None, W_R, XDOM_R, 0)
pb = panel("b", "trait 2, observed data", "-log10(p)", [-0.48, 13.27], [0, 2, 4, 6, 8, 10, 12],
           B_BAND, B_GRAY, B_BLUE, B_GREEN, True, "coloc with trait 1: PP H4=0.87",
           W_L, XDOM_L, 137)
pe = panel("e", "trait 2, SuSiE signal 1", "log BF", [-2.6, 19.0], [0, 5, 10, 15],
           E_BAND, E_GRAY, E_BLUE, E_GREEN, True, "coloc with trait 1: PP H4=0.89",
           W_R, XDOM_R, 140)
pc = panel("c", "trait 2, conditioned on proxy for B", "-log10(p)", [-0.5, 10.08],
           [0, 2, 4, 6, 8, 10], C_BAND, C_GRAY, C_BLUE, C_GREEN, True,
           "coloc with trait 1: PP H4=0.89", W_L, XDOM_L, 137)
pf = panel("f", "trait 2, SuSiE signal 2", "log BF", [-3.0, 20.25], [0, 5, 10, 15, 20],
           F_BAND, F_GRAY, F_BLUE, F_GREEN, True, "coloc with trait 1: PP H4=2.6e-05",
           W_R, XDOM_R, 154)

chart = alt.vconcat(
    alt.hconcat(pa, pdd, spacing=12),
    alt.hconcat(pb, pe, spacing=12),
    alt.hconcat(pc, pf, spacing=12),
    spacing=22,
).properties(padding=0).configure_view(stroke=None).configure_axis(
    labelFont=FONT, titleFont=FONT, labelFontSize=9, titleFontSize=9,
    titleFontWeight="normal", domainColor="black", tickColor="black",
    labelColor="black", titleColor="black", grid=False, domainWidth=1, tickWidth=1,
)

chart.save("out.html", embed_options={"renderer": "svg", "actions": False})
